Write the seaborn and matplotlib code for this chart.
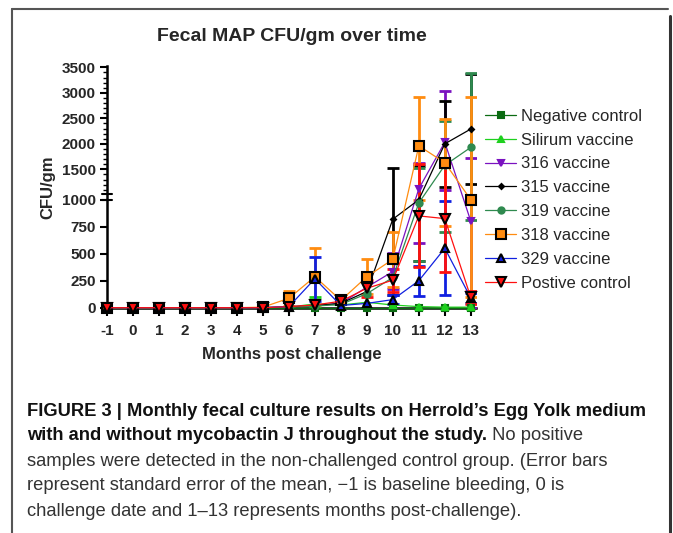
import numpy as np
import matplotlib
matplotlib.use("Agg")
import matplotlib.pyplot as plt
from matplotlib.lines import Line2D
import seaborn as sns

# months post challenge (-1 = baseline, 0 = challenge)
months = list(range(-1, 14))

labels = ["Negative control", "Silirum vaccine", "316 vaccine", "315 vaccine",
          "319 vaccine", "318 vaccine", "329 vaccine", "Postive control"]

# mean CFU/gm per month
neg_ctrl = [0] * 15
silirum = [0, 0, 0, 0, 0, 0, 0, 5, 35, 25, 50, 25, 10, 5, 5]
v316 = [0, 0, 0, 0, 0, 0, 0, 10, 20, 40, 190, 335, 1120, 2030, 800]
v315 = [0, 0, 0, 0, 0, 0, 0, 5, 20, 40, 150, 820, 1000, 2000, 2290]
v319 = [0, 0, 0, 0, 0, 0, 0, 5, 15, 30, 130, 280, 970, 1580, 1930]
v318 = [0, 0, 0, 0, 0, 0, 5, 87, 287, 68, 287, 448, 1960, 1630, 1000]
v329 = [0, 0, 0, 0, 0, 0, 0, 10, 268, 20, 40, 75, 250, 550, 90]
pos_ctrl = [0, 0, 0, 0, 0, 0, 0, 10, 25, 60, 180, 255, 850, 825, 95]

# error bar ends (SEM), None = no visible bar
silirum_lo = [None] * 8 + [0, None, None, None, None, None, None]
silirum_hi = [None] * 8 + [100, None, None, None, None, None, None]
v316_lo = [None] * 11 + [170, 600, 1100, 0]
v316_hi = [None] * 11 + [503, 1630, 3040, 1730]
v315_lo = [None] * 11 + [120, 430, 1150, 1212]
v315_hi = [None] * 11 + [1520, 1560, 2845, 3370]
v319_lo = [None] * 12 + [430, 700, 815]
v319_hi = [None] * 12 + [1520, 2447, 3380]
v318_lo = [None] * 7 + [17, 25, None, 126, 190, 1000, 760, 100]
v318_hi = [None] * 7 + [157, 550, None, 448, 698, 2920, 2490, 2920]
v329_lo = [None] * 8 + [65, None, None, 30, 111, 118, 40]
v329_hi = [None] * 8 + [472, None, None, 120, 390, 985, 140]
pos_lo = [None] * 10 + [100, 150, 380, 333, 30]
pos_hi = [None] * 10 + [260, 360, 1600, 1617, 157]

series = [
    (neg_ctrl, None, None, "#0b6b12", "s", "#0b6b12", "#0b6b12", 4),
    (silirum, silirum_lo, silirum_hi, "#1ed01e", "^", "#1ed01e", "#1ed01e", 4.5),
    (v316, v316_lo, v316_hi, "#7a12c0", "v", "#7a12c0", "#7a12c0", 4.5),
    (v315, v315_lo, v315_hi, "#000000", "D", "#000000", "#000000", 2.5),
    (v319, v319_lo, v319_hi, "#2f8a4f", "o", "#2f8a4f", "#2f8a4f", 4.5),
    (v318, v318_lo, v318_hi, "#ff8c10", "s", "#ff8c10", "#000000", 6.5),
    (v329, v329_lo, v329_hi, "#1020e0", "^", "#1020e0", "#000000", 6),
    (pos_ctrl, pos_lo, pos_hi, "#ff1010", "v", "#ff1010", "#000000", 6.5),
]

# broken y axis: 0-1000 full scale, above ~1100 compressed
yp = [0, 1000, 1100, 3500]
tp = [0, 1000, 1092.6, 2225.9]
k_up = 0.4722


def fwd(y):
    y = np.asarray(y, dtype=float)
    t = np.interp(y, yp, tp)
    t = np.where(y > yp[-1], tp[-1] + (y - yp[-1]) * k_up, t)
    t = np.where(y < 0, y, t)
    return t


def inv(t):
    t = np.asarray(t, dtype=float)
    y = np.interp(t, tp, yp)
    y = np.where(t > tp[-1], yp[-1] + (t - tp[-1]) / k_up, y)
    y = np.where(t < 0, t, y)
    return y


sns.set_style("ticks")
plt.rcParams["font.family"] = ["Liberation Sans", "DejaVu Sans"]

fig = plt.figure(figsize=(6.73, 5.33), dpi=100)
ax = fig.add_axes([107 / 673, 1 - 307.7 / 533, 369 / 673, 241.4 / 533])
ax.set_yscale("function", functions=(fwd, inv))

for vals, lo, hi, col, mk, mfc, mec, ms in series:
    if lo is not None:
        xs, ys, dlo, dhi = [], [], [], []
        for m, v, a, b in zip(months, vals, lo, hi):
            if a is None:
                continue
            xs.append(m)
            ys.append(v)
            dlo.append(v - a)
            dhi.append(b - v)
        ax.errorbar(xs, ys, yerr=[dlo, dhi], fmt="none", ecolor=col,
                    elinewidth=2.0, capsize=4, capthick=2.0, zorder=3)

for (vals, lo, hi, col, mk, mfc, mec, ms), lab in zip(series, labels):
    sns.lineplot(x=months, y=vals, ax=ax, color=col, linewidth=0.9,
                 marker=mk, markersize=ms, markerfacecolor=mfc,
                 markeredgecolor=mec, markeredgewidth=1.5, label=lab,
                 clip_on=False, zorder=4)

ax.set_xlim(-1, 13.2)
ax.set_ylim(0, 3520)
ax.set_xticks(months)
ax.set_xticklabels([str(m) for m in months])
ax.set_yticks([0, 250, 500, 750, 1000, 1500, 2000, 2500, 3000, 3500])
ax.set_yticks([v for v in range(1100, 3501, 100) if v % 500], minor=True)
ax.tick_params(axis="both", which="major", labelsize=11, width=1.5,
               length=5, color="black", pad=3)
ax.tick_params(axis="x", length=6, pad=6)
ax.tick_params(axis="y", which="minor", length=3, width=1.0, color="black")
for lab in ax.get_xticklabels() + ax.get_yticklabels():
    lab.set_fontweight("bold")
for side in ["top", "right"]:
    ax.spines[side].set_visible(False)
for side in ["left", "bottom"]:
    ax.spines[side].set_linewidth(1.8)
    ax.spines[side].set_color("black")
ax.grid(False)

# axis break marks
for yb in [1000, 1060]:
    ax.plot([-1.2, -0.8], [yb, yb], color="black", lw=1.5,
            clip_on=False, zorder=5)

ax.set_title("Fecal MAP CFU/gm over time", fontsize=14, fontweight="bold",
             pad=18)
ax.set_xlabel("Months post challenge", fontsize=12, fontweight="bold",
              labelpad=6)
ax.set_ylabel("CFU/gm", fontsize=12, fontweight="bold", labelpad=5)

handles, labs = ax.get_legend_handles_labels()
ax.legend(handles, labs, loc="upper left", bbox_to_anchor=(478 / 673, 1 - 102 / 533),
          bbox_transform=fig.transFigure, frameon=False, fontsize=12,
          handlelength=1.9, labelspacing=0.53, handletextpad=0.3,
          borderaxespad=0)

# frame around figure + caption
fig.add_artist(Line2D([12 / 673, 668 / 673], [1 - 9 / 533, 1 - 9 / 533],
                      color="#555555", lw=1.5))
fig.add_artist(Line2D([12 / 673, 12 / 673], [0, 1 - 9 / 533],
                      color="#555555", lw=1.5))
fig.add_artist(Line2D([669.5 / 673, 669.5 / 673], [0, 1 - 16 / 533],
                      color="#333333", lw=2.2))

cap_font = ["Liberation Sans", "DejaVu Sans"]
cap_lines = [
    ("FIGURE 3 | Monthly fecal culture results on Herrold\u2019s Egg Yolk medium", ""),
    ("with and without mycobactin J throughout the study.", " No positive"),
    ("", "samples were detected in the non-challenged control group. (Error bars"),
    ("", "represent standard error of the mean, \u22121 is baseline bleeding, 0 is"),
    ("", "challenge date and 1\u201313 represents months post-challenge)."),
]
cap_y = [411, 436, 461, 486, 511]
renderer = fig.canvas.get_renderer()
for (b, r), yy in zip(cap_lines, cap_y):
    x0 = 27 / 673
    if b:
        tb = fig.text(x0, 1 - yy / 533, b, fontsize=13.2, fontweight="bold",
                      family=cap_font, color="#111111", va="center")
        x0 = tb.get_window_extent(renderer).x1 / fig.bbox.width
    if r:
        fig.text(x0, 1 - yy / 533, r, fontsize=13.2, family=cap_font,
                 color="#333333", va="center")

fig.savefig("out.png", dpi=100)
